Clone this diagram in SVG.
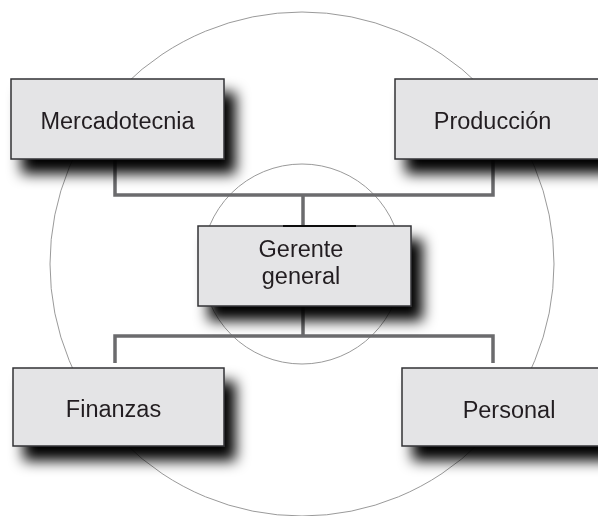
<svg xmlns="http://www.w3.org/2000/svg" width="598" height="516" viewBox="0 0 598 516">
<defs>
<filter id="sh" x="-20%" y="-30%" width="150%" height="190%">
<feGaussianBlur in="SourceAlpha" stdDeviation="7" result="b"/>
<feOffset in="b" dx="11" dy="14" result="o"/>
<feComponentTransfer in="o" result="c"><feFuncA type="linear" slope="1"/></feComponentTransfer>
<feMerge><feMergeNode in="c"/><feMergeNode in="SourceGraphic"/></feMerge>
</filter>
</defs>
<style>
.box{fill:#e4e4e6;stroke:#333336;stroke-width:1.5}
.lbl{font-family:"Liberation Sans",Arial,sans-serif;font-size:23.5px;fill:#231f20;text-anchor:middle}
.conn{fill:none;stroke:#6b6b6d;stroke-width:3.5}
.ring{fill:none;stroke:#9a9a9a;stroke-width:1}
</style>
<rect width="598" height="516" fill="#ffffff"/>
<g id="rings">
<circle class="ring" cx="302" cy="264" r="252"/>
<circle class="ring" cx="302" cy="264" r="100"/>
</g>
<g id="connectors">
<path class="conn" d="M115,159 V195 H493 V159"/>
<path class="conn" d="M303,195 V226"/>
<path class="conn" d="M303,306 V336"/>
<path class="conn" d="M115,363 V336 H493 V363"/>
</g>
<g id="mercadotecnia" filter="url(#sh)">
<rect class="box" x="11" y="79" width="213" height="80"/>
<text class="lbl" x="117.5" y="129">Mercadotecnia</text>
</g>
<g id="produccion" filter="url(#sh)">
<rect class="box" x="395" y="79" width="215" height="80"/>
<text class="lbl" x="492.5" y="129">Producción</text>
</g>
<g id="gerente" filter="url(#sh)">
<rect class="box" x="198" y="226" width="213" height="80"/>
<line x1="283" y1="226" x2="356" y2="226" stroke="#111" stroke-width="2"/>
<text class="lbl" x="301" y="257">Gerente</text>
<text class="lbl" x="301" y="284">general</text>
</g>
<g id="finanzas" filter="url(#sh)">
<rect class="box" x="13" y="368" width="211" height="78"/>
<text class="lbl" x="113.5" y="417">Finanzas</text>
</g>
<g id="personal" filter="url(#sh)">
<rect class="box" x="402" y="368" width="215" height="78"/>
<text class="lbl" x="509" y="418">Personal</text>
</g>
</svg>
